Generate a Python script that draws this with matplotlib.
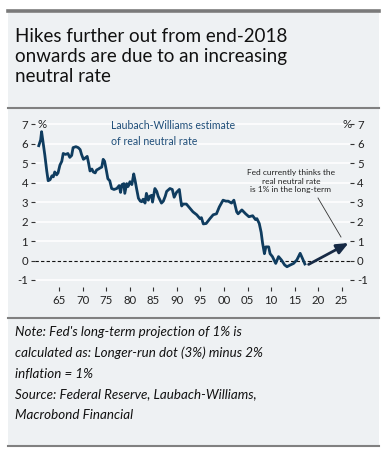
import matplotlib
matplotlib.use("Agg")
import matplotlib.pyplot as plt
from matplotlib.patches import Rectangle
from matplotlib.lines import Line2D

# ---------------- data ----------------
years = [1960.6, 1961.0, 1961.2, 1961.5, 1961.9, 1962.3, 1962.6, 1963.0, 1963.4, 1963.7,
         1964.0, 1964.4, 1964.7, 1965.1, 1965.5, 1965.8, 1966.3, 1966.8, 1967.2, 1967.6,
         1967.9, 1968.5, 1969.0, 1969.4, 1969.7, 1970.1, 1970.4, 1970.9, 1971.2, 1971.5,
         1971.9, 1972.2, 1972.6, 1972.9, 1973.3, 1973.6, 1974.0, 1974.3, 1974.6, 1975.0,
         1975.3, 1975.7, 1976.1, 1976.6, 1977.2, 1977.7, 1978.0, 1978.3, 1978.7, 1978.9,
         1979.3, 1979.6, 1980.0, 1980.4, 1980.8, 1981.1, 1981.4, 1981.8, 1982.2, 1982.5,
         1982.8, 1983.2, 1983.5, 1983.9, 1984.2, 1984.6, 1984.8, 1985.3, 1985.7, 1986.0,
         1986.4, 1986.7, 1987.1, 1987.5, 1987.8, 1988.5, 1989.0, 1989.4, 1989.9, 1990.5,
         1990.8, 1991.0, 1991.3, 1992.0, 1992.7, 1993.4, 1994.2, 1994.9, 1995.2, 1995.6,
         1996.2, 1997.0, 1997.7, 1998.4, 1999.0, 1999.8, 2000.4, 2000.9, 2001.6, 2002.1,
         2002.7, 2003.0, 2003.8, 2004.6, 2005.3, 2006.1, 2006.7, 2007.0, 2007.5, 2007.9,
         2008.2, 2008.6, 2008.9, 2009.5, 2009.8, 2010.3, 2011.0, 2011.6, 2012.2, 2012.9,
         2013.4, 2014.1, 2014.8, 2015.5, 2016.2, 2016.7, 2017.2]
neutral_rate = [5.9, 6.2, 6.62, 6.1, 5.4, 4.6, 4.1, 4.15, 4.35, 4.3,
                4.55, 4.4, 4.5, 4.9, 5.1, 5.5, 5.45, 5.5, 5.3, 5.4,
                5.8, 5.85, 5.8, 5.7, 5.45, 5.2, 5.25, 5.35, 5.0, 4.6,
                4.7, 4.55, 4.5, 4.65, 4.7, 4.75, 4.8, 5.2, 5.1, 4.6,
                4.2, 4.1, 3.7, 3.65, 3.7, 3.85, 3.5, 3.9, 3.95, 3.45,
                3.95, 3.8, 4.05, 3.9, 4.45, 4.1, 3.7, 3.2, 3.05, 3.02,
                3.15, 2.95, 3.45, 3.1, 3.3, 3.35, 3.0, 3.7, 3.55, 3.3,
                3.1, 2.95, 3.05, 3.3, 3.55, 3.7, 3.65, 3.25, 3.5, 3.65,
                3.1, 2.8, 2.9, 2.9, 2.7, 2.5, 2.35, 2.15, 2.2, 1.88,
                1.9, 2.15, 2.35, 2.4, 2.75, 3.1, 3.05, 3.05, 2.95, 3.1,
                2.5, 2.4, 2.6, 2.4, 2.25, 2.3, 2.1, 2.15, 1.9, 1.45,
                0.9, 0.35, 0.7, 0.7, 0.35, 0.2, -0.15, 0.2, 0.03, -0.23,
                -0.32, -0.23, -0.15, 0.03, 0.37, 0.1, -0.18]

arrow_start = (2018.0, -0.2)
arrow_end = (2026.5, 0.9)

y_ticks = [-1, 0, 1, 2, 3, 4, 5, 6, 7]
x_ticks = [1965, 1970, 1975, 1980, 1985, 1990, 1995, 2000, 2005, 2010, 2015, 2020, 2025]
x_labels = ["65", "70", "75", "80", "85", "90", "95", "00", "05", "10", "15", "20", "25"]

title = "Hikes further out from end-2018\nonwards are due to an increasing\nneutral rate"
series_label = "Laubach-Williams estimate\nof real neutral rate"
annot = "Fed currently thinks the\nreal neutral rate\nis 1% in the long-term"
note = ("Note: Fed's long-term projection of 1% is\n"
        "calculated as: Longer-run dot (3%) minus 2%\n"
        "inflation = 1%\n"
        "Source: Federal Reserve, Laubach-Williams,\n"
        "Macrobond Financial")

# ---------------- style ----------------
W, H = 390, 458
BG = "#eef1f3"
LINE = "#0f3c5f"
TXT = "#222222"
FONT = "Lato"

fig = plt.figure(figsize=(W / 100, H / 100), dpi=100)
fig.patch.set_facecolor("white")

def fx(px):
    return px / W

def fy(py):
    return 1 - py / H

# panel background
fig.add_artist(Rectangle((fx(8), fy(446)), fx(379) - fx(8), fy(13) - fy(446),
                         transform=fig.transFigure, facecolor=BG, edgecolor="none", zorder=0))
# horizontal rules
fig.add_artist(Line2D([fx(8), fx(379)], [fy(11), fy(11)], transform=fig.transFigure,
                      color="#7a7a7a", lw=2.6, zorder=1))
for yy in (108, 317.5, 445.5):
    fig.add_artist(Line2D([fx(8), fx(379)], [fy(yy), fy(yy)], transform=fig.transFigure,
                          color="#808080", lw=1.5, zorder=1))

# title
fig.text(fx(15), fy(28), title, ha="left", va="top", fontsize=13.5, family=FONT,
         color="#111111", linespacing=1.22)

# notes
fig.text(fx(15), fy(326), note, ha="left", va="top", fontsize=9.6, family=FONT,
         style="italic", color="#111111", linespacing=1.84)

# axes
ax_left, ax_right = 35, 350
ylo, yhi = -1.35, 7.3
y0px, unit = 260.5, 19.46
top_px = y0px - yhi * unit
bot_px = y0px - ylo * unit
ax = fig.add_axes([fx(ax_left), fy(bot_px), fx(ax_right) - fx(ax_left), (bot_px - top_px) / H])
ax.set_facecolor(BG)
ax.patch.set_alpha(0)
ax.set_xlim(1959.8, 2026.8)
ax.set_ylim(ylo, yhi)
for s in ax.spines.values():
    s.set_visible(False)

for t in y_ticks:
    if t != 0:
        ax.axhline(t, color="white", lw=1.1, zorder=1)
ax.axhline(0, color="#111111", lw=0.8, ls=(0, (3, 2)), zorder=2)

ax.plot(years, neutral_rate, color=LINE, lw=2.0, zorder=3, solid_joinstyle="round")

ax.annotate("", xy=arrow_end, xytext=arrow_start,
            arrowprops=dict(arrowstyle="-|>,head_length=0.7,head_width=0.3",
                            color="#172a45", lw=2.0, shrinkA=0, shrinkB=0), zorder=4)

ax.set_yticks(y_ticks)
ax.set_yticklabels([str(t) for t in y_ticks])
ax.set_xticks(x_ticks)
ax.set_xticklabels(x_labels)
ax.tick_params(axis="both", direction="out", length=3, width=0.8, color="#333333",
               labelsize=8.2, labelcolor=TXT, pad=2)
ax.tick_params(axis="x", pad=3)
for lab in ax.get_xticklabels() + ax.get_yticklabels():
    lab.set_family(FONT)

ax2 = ax.twinx()
ax2.set_ylim(ylo, yhi)
ax2.set_yticks(y_ticks)
ax2.set_yticklabels([str(t) for t in y_ticks])
ax2.tick_params(axis="y", direction="out", length=3, width=0.8, color="#333333",
                labelsize=8.2, labelcolor=TXT, pad=2)
for lab in ax2.get_yticklabels():
    lab.set_family(FONT)
for s in ax2.spines.values():
    s.set_visible(False)

# % labels
ax.text(fx(37), fy(124), "%", transform=fig.transFigure, ha="left", va="center",
        fontsize=8.2, family=FONT, color=TXT)
ax.text(fx(352), fy(124), "%", transform=fig.transFigure, ha="right", va="center",
        fontsize=8.2, family=FONT, color=TXT)

# series label
ax.text(fx(111), fy(120.5), series_label, transform=fig.transFigure, ha="left", va="top",
        fontsize=7.6, family=FONT, color="#1f4e79", linespacing=1.45)

# annotation
ax.text(fx(291), fy(181), annot, transform=fig.transFigure, ha="center", va="center",
        fontsize=6.0, family=FONT, color=TXT, linespacing=1.3)
ax.add_artist(Line2D([fx(318), fx(341)], [fy(198), fy(237)], transform=fig.transFigure,
                     color="#333333", lw=0.6))

fig.savefig("out.png", dpi=100, facecolor="white")
